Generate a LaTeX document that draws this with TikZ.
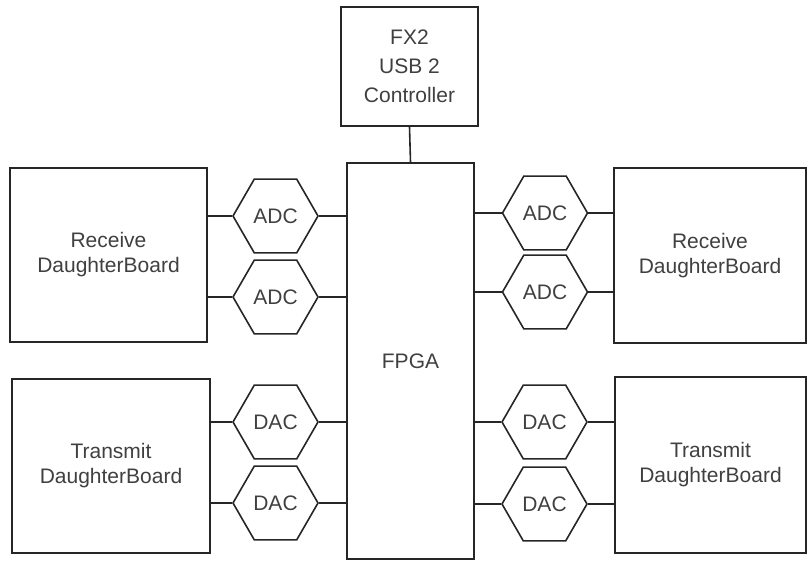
\documentclass[tikz,border=0pt]{standalone}
\usepackage{fontspec}
\setmainfont{Liberation Sans}
\usetikzlibrary{shapes.geometric}

\begin{document}
\begin{tikzpicture}[x=1pt, y=-1pt,
    board/.style={draw=black!85, line width=1.6pt, fill=white, align=center,
                  text=black!75, font=\fontsize{21}{25}\selectfont, inner sep=0pt},
    conv/.style={draw=black!85, line width=1.6pt, regular polygon, regular polygon sides=6,
                 minimum size=85pt, inner sep=0pt, text=black!75,
                 font=\fontsize{21}{25}\selectfont},
    wire/.style={draw=black!85, line width=1.6pt}]
    \useasboundingbox (0,0) rectangle (809,562);

    % Boards
    \node[board, minimum width=137pt, minimum height=119pt] (fx2) at (409.5,66.5) {FX2\\[4pt]USB 2\\[4pt]Controller};
    \node[board, minimum width=127pt, minimum height=396pt] (fpga) at (410.5,361) {FPGA};
    \node[board, minimum width=197pt, minimum height=174pt] (rxl) at (108.5,255) {Receive\\DaughterBoard};
    \node[board, minimum width=198pt, minimum height=174pt] (txl) at (111,466) {Transmit\\DaughterBoard};
    \node[board, minimum width=192pt, minimum height=175pt] (rxr) at (710,255.5) {Receive\\DaughterBoard};
    \node[board, minimum width=191pt, minimum height=176pt] (txr) at (710.5,465) {Transmit\\DaughterBoard};

    % Converters
    \node[conv] (adcl1) at (275.5,216) {ADC};
    \node[conv] (adcl2) at (275.5,297) {ADC};
    \node[conv] (dacl1) at (275.5,422) {DAC};
    \node[conv] (dacl2) at (275.5,503) {DAC};
    \node[conv] (adcr1) at (545,213) {ADC};
    \node[conv] (adcr2) at (545,292) {ADC};
    \node[conv] (dacr1) at (544.5,422) {DAC};
    \node[conv] (dacr2) at (544.5,504) {DAC};

    % USB link
    \path[wire] (fx2.south) -- (fpga.north);

    % Left side links
    \foreach \c/\b in {adcl1/rxl, adcl2/rxl, dacl1/txl, dacl2/txl} {
        \path[wire] (\c.west -| \b.east) -- (\c.west);
        \path[wire] (\c.east) -- (\c.east -| fpga.west);
    }

    % Right side links
    \foreach \c/\b in {adcr1/rxr, adcr2/rxr, dacr1/txr, dacr2/txr} {
        \path[wire] (\c.west -| fpga.east) -- (\c.west);
        \path[wire] (\c.east) -- (\c.east -| \b.west);
    }
\end{tikzpicture}
\end{document}
